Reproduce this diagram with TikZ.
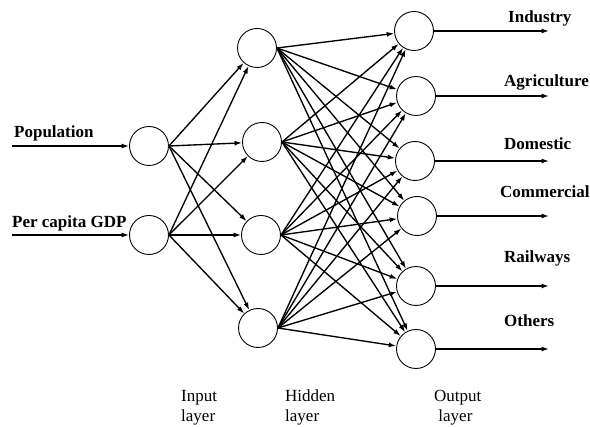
\documentclass[tikz,border=0pt]{standalone}
\usepackage{fontspec}
\setmainfont{Liberation Serif}
\usetikzlibrary{arrows.meta}
\begin{document}
\begin{tikzpicture}[x=1pt,y=-1pt,
  neuron/.style={circle,draw,line width=0.9pt,minimum size=39pt,inner sep=0pt},
  conn/.style={line width=1.35pt,-{Latex[length=7.5pt,width=5pt]}},
  lab/.style={font=\fontsize{17}{20}\selectfont\bfseries,inner sep=0pt,anchor=base west},
  layerlab/.style={font=\fontsize{17}{20}\selectfont,inner sep=0pt,anchor=north west,align=left}]
\useasboundingbox (0,0) rectangle (590,427);
% input layer
\node[neuron] (i1) at (149,146) {};
\node[neuron] (i2) at (149,235) {};
% hidden layer
\node[neuron] (h1) at (257,48) {};
\node[neuron] (h2) at (262,142) {};
\node[neuron] (h3) at (261,235) {};
\node[neuron] (h4) at (258,328) {};
% output layer
\node[neuron] (o1) at (414,31) {};
\node[neuron] (o2) at (416,96) {};
\node[neuron] (o3) at (415,161) {};
\node[neuron] (o4) at (417,216) {};
\node[neuron] (o5) at (416,286) {};
\node[neuron] (o6) at (416,349) {};
% input arrows
\coordinate (s1) at (12,146);
\coordinate (s2) at (12,235);
\draw[conn] (s1) -- (i1);
\draw[conn] (s2) -- (i2);
\node[lab] (lpop) at (14,138) {Population};
\node[lab] (lgdp) at (12,228) {Per capita GDP};
% connections
\foreach \i in {1,2}
  \foreach \h in {1,...,4}
    \draw[conn] (i\i.east) -- (h\h);
\foreach \h in {1,...,4}
  \foreach \o in {1,...,6}
    \draw[conn] (h\h.east) -- (o\o);
% output arrows
\foreach \o/\y in {1/31,2/96,3/161,4/216,5/286,6/349}{
  \coordinate (e\o) at (549,\y);
  \draw[conn] (o\o.east) -- (e\o);
}
\node[lab] (lind) at (508,23) {Industry};
\node[lab] (lagr) at (504,87) {Agriculture};
\node[lab] (ldom) at (504,150) {Domestic};
\node[lab] (lcom) at (500,198) {Commercial};
\node[lab] (lrai) at (504,263) {Railways};
\node[lab] (loth) at (504,327) {Others};
% layer labels
\node[layerlab] (linp) at (181,390) {Input\\layer};
\node[layerlab] (lhid) at (285,390) {Hidden\\layer};
\node[layerlab] (lout) at (434,390) {Output\\\ layer};
\end{tikzpicture}
\end{document}
